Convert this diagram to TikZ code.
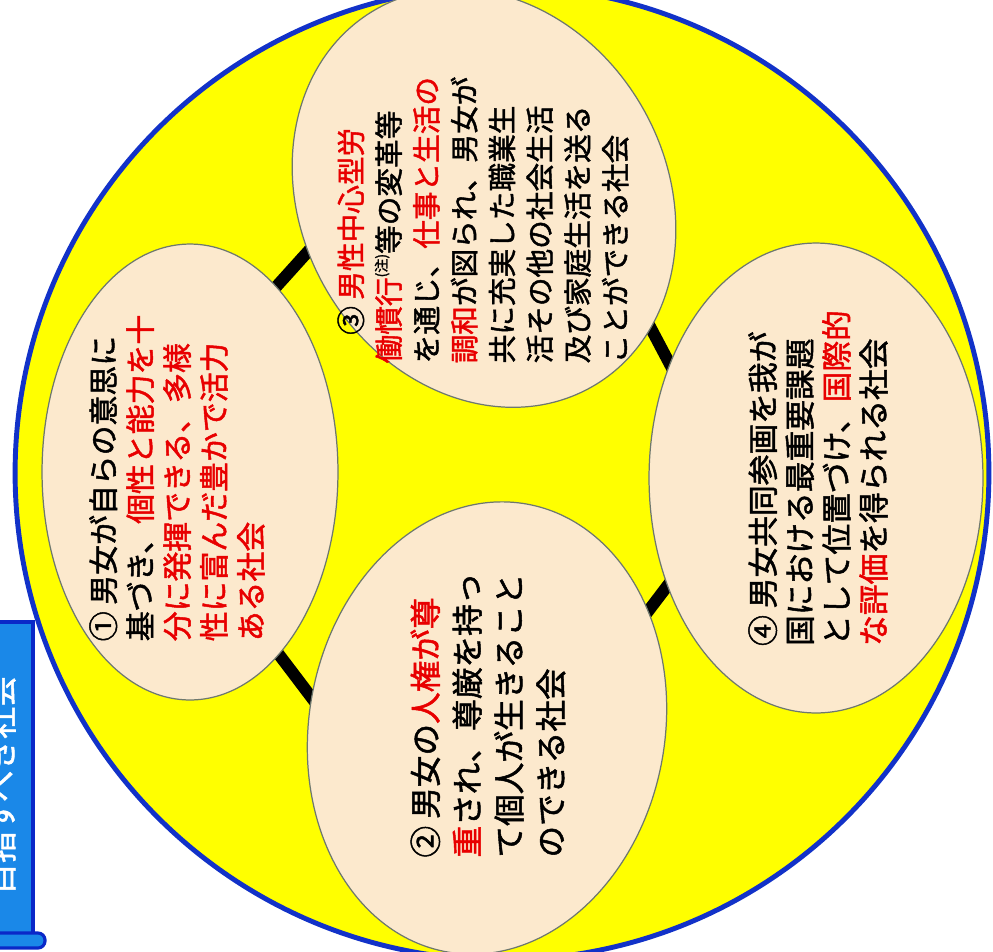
\documentclass[tikz,border=0pt]{standalone}
\usepackage{fontspec}
\setmainfont{Noto Sans CJK JP}
\newfontfamily\medfont{Noto Sans CJK JP}[FakeBold=1.6]
\usetikzlibrary{shapes.geometric}
\definecolor{circyellow}{RGB}{255,255,0}
\definecolor{circblue}{RGB}{18,50,200}
\definecolor{ovalfill}{RGB}{252,233,205}
\definecolor{ovalline}{RGB}{110,120,110}
\definecolor{jred}{RGB}{232,0,0}
\definecolor{labelfill}{RGB}{26,136,232}
\definecolor{labelline}{RGB}{10,40,200}
\newcommand{\rt}[1]{\textcolor{jred}{#1}}
\pgfdeclarelayer{back}
\pgfdeclarelayer{mid}
\pgfsetlayers{back,mid,main}
\begin{document}
\begin{tikzpicture}[x=0.02cm,y=-0.02cm,
  oval/.style={ellipse, draw=ovalline, line width=0.7pt, fill=ovalfill, inner sep=0pt},
  link/.style={line width=6.8pt, black, shorten <=-5pt, shorten >=-5pt},
  otext/.style={rotate=90, align=left, inner sep=0pt, text=black}]
\useasboundingbox (0,0) rectangle (993,951);
\begin{pgfonlayer}{back}
\fill[white] (0,0) rectangle (993,951);
\draw[fill=circyellow, draw=circblue, line width=2.8pt] (502,473) circle[radius=9.74cm];
\end{pgfonlayer}

\node[oval, minimum width=5.92cm, minimum height=9.12cm] (e1) at (190,472) {};
\node[oval, rotate=30, minimum width=7.3cm, minimum height=8.7cm] (e3) at (484,198) {};
\node[oval, rotate=-10, minimum width=7.12cm, minimum height=9.1cm] (e2) at (487,728) {};
\node[oval, minimum width=6.68cm, minimum height=9.4cm] (e4) at (816,478) {};

\begin{pgfonlayer}{mid}
\draw[link] (e1.65) -- (e3.167);
\draw[link] (e1.-64) -- (e2.180);
\draw[link] (e3.-68) -- (e4.142);
\draw[link] (e2.46) -- (e4.-144);
\end{pgfonlayer}

\node[otext, font=\fontsize{17pt}{21pt}\medfont] (t1) at (177,478)
  {① 男女が自らの意思に\\基づき、\rt{個性と能力を十}\\\rt{分に発揮できる、多様}\\\rt{性に富んだ豊かで活力}\\\rt{ある社会}};
\node[otext, font=\fontsize{18pt}{23.8pt}\medfont] (t2) at (488,715)
  {② 男女の\rt{人権が尊}\\\rt{重}され、尊厳を持っ\\て個人が生きること\\のできる社会};
\node[otext, font=\fontsize{16.3pt}{21.5pt}\medfont] (t3) at (483,220)
  {\hspace{1em}③ \rt{男性中心型労}\\\rt{働慣行}\raisebox{0.45em}{\fontsize{8pt}{8pt}\selectfont (注)}等の変革等\\を通じ、\rt{仕事と生活の}\\\rt{調和}が図られ、男女が\\共に充実した職業生\\活その他の社会生活\\及び家庭生活を送る\\ことができる社会};
\node[otext, font=\fontsize{17.5pt}{21pt}\medfont] (t4) at (818,478)
  {④ 男女共同参画を我が\\国における最重要課題\\として位置づけ、\rt{国際的}\\\rt{な評価}を得られる社会};

\draw[draw=labelline, fill=labelfill, line width=1.8pt] (-40,622) rectangle (33,940);
\draw[draw=labelline, fill=labelfill, line width=1.8pt, rounded corners=4pt] (-40,933) rectangle (45,948);
\node[rotate=90, text=white, inner sep=0pt, font=\fontsize{18pt}{18pt}\medfont] (lab) at (1,785) {目指すべき社会};
\end{tikzpicture}
\end{document}
